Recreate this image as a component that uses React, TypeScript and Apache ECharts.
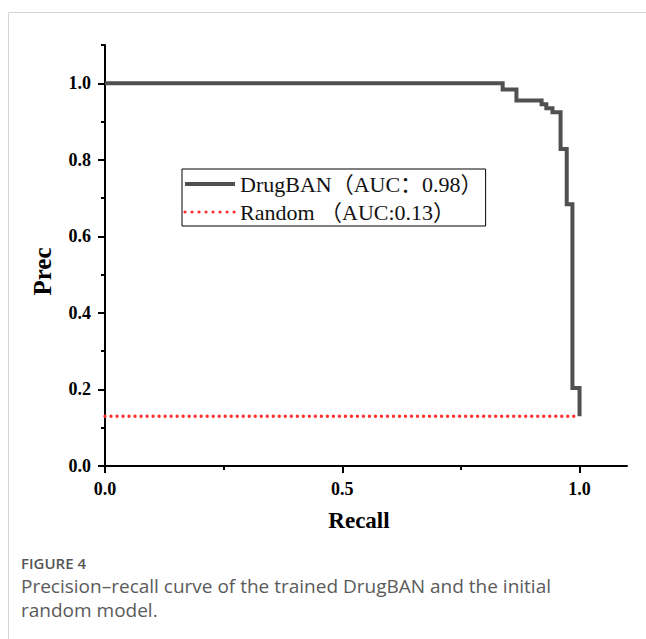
import React, { useEffect, useRef } from "react";
import * as echarts from "echarts";

const recall = [0, 0.838, 0.867, 0.92, 0.93, 0.943, 0.96, 0.973, 0.985, 1.0];
const precision = [1.0, 0.984, 0.955, 0.945, 0.935, 0.924, 0.828, 0.684, 0.204, 0.13];
const randomRecall = [0, 1.0];
const randomPrecision = [0.13, 0.13];
const xMajorTicks = [0, 0.5, 1.0];
const xMinorTicks = [0.25, 0.75];
const yMajorTicks = [0, 0.2, 0.4, 0.6, 0.8, 1.0];
const yMinorTicks = [0.1, 0.3, 0.5, 0.7, 0.9, 1.1];
const seriesNames = ["DrugBAN（AUC：0.98）", "Random （AUC:0.13）"];
const axisNames = ["Recall", "Prec"];
const captionTitle = "FIGURE 4";
const captionLines = [
  "Precision–recall curve of the trained DrugBAN and the initial",
  "random model.",
];

const SERIF = '"Liberation Serif", "Times New Roman", "Noto Sans CJK SC", serif';
const SANS = '"Open Sans", "Noto Sans", sans-serif';
const CURVE = "#505050";
const RED = "#ff3030";

export default function App() {
  const ref = useRef<HTMLDivElement>(null);
  useEffect(() => {
    if (!ref.current) return;
    const chart = echarts.init(ref.current, null, { renderer: "svg" });
    const axisLine = { show: true, lineStyle: { color: "#000", width: 2 } };
    const labelStyle = {
      fontFamily: SERIF,
      fontWeight: "bold" as const,
      fontSize: 18,
      color: "#000",
    };
    chart.setOption({
      animation: false,
      backgroundColor: "#fff",
      grid: { left: 105, right: 19, top: 45, bottom: 173, containLabel: false },
      xAxis: [
        {
          type: "value",
          min: 0,
          max: 1.1,
          position: "bottom",
          name: axisNames[0],
          nameLocation: "middle",
          nameGap: 43,
          nameTextStyle: {
            fontFamily: SERIF,
            fontWeight: "bold",
            fontSize: 23,
            color: "#000",
            padding: [0, 14, 0, 0],
          },
          axisLine,
          axisTick: {
            show: true,
            length: 7,
            customValues: xMajorTicks,
            lineStyle: { color: "#000", width: 2 },
          },
          axisLabel: {
            ...labelStyle,
            margin: 14,
            customValues: xMajorTicks,
            formatter: (v: number) => v.toFixed(1),
          },
          splitLine: { show: false },
        },
        {
          type: "value",
          min: 0,
          max: 1.1,
          position: "bottom",
          axisLine: { show: false },
          axisTick: {
            show: true,
            length: 4,
            customValues: xMinorTicks,
            lineStyle: { color: "#000", width: 2 },
          },
          axisLabel: { show: false },
          splitLine: { show: false },
        },
      ],
      yAxis: [
        {
          type: "value",
          min: 0,
          max: 1.1,
          position: "left",
          name: axisNames[1],
          nameLocation: "middle",
          nameRotate: 90,
          nameGap: 50,
          nameTextStyle: {
            fontFamily: SERIF,
            fontWeight: "bold",
            fontSize: 25,
            color: "#000",
            padding: [0, 32, 0, 0],
          },
          axisLine,
          axisTick: {
            show: true,
            length: 7,
            customValues: yMajorTicks,
            lineStyle: { color: "#000", width: 2 },
          },
          axisLabel: {
            ...labelStyle,
            margin: 14,
            customValues: yMajorTicks,
            formatter: (v: number) => v.toFixed(1),
          },
          splitLine: { show: false },
        },
        {
          type: "value",
          min: 0,
          max: 1.1,
          position: "left",
          axisLine: { show: false },
          axisTick: {
            show: true,
            length: 4,
            customValues: yMinorTicks,
            lineStyle: { color: "#000", width: 2 },
          },
          axisLabel: { show: false },
          splitLine: { show: false },
        },
      ],
      legend: {
        orient: "vertical",
        left: 182,
        top: 169,
        padding: [3, 3, 2, 1],
        borderColor: "#000",
        borderWidth: 1,
        itemWidth: 50,
        itemHeight: 14,
        itemGap: 4,
        textStyle: {
          fontFamily: SERIF,
          fontSize: 22,
          lineHeight: 24,
          color: "#111",
        },
        data: [
          {
            name: seriesNames[0],
            itemStyle: { opacity: 0 },
            lineStyle: { width: 4, color: CURVE },
          },
          {
            name: seriesNames[1],
            itemStyle: { opacity: 0 },
            lineStyle: { width: 3.2, color: RED, type: [0.01, 7], cap: "round" },
          },
        ],
      },
      series: [
        {
          name: seriesNames[0],
          type: "line",
          step: "end",
          xAxisIndex: 0,
          yAxisIndex: 0,
          symbol: "none",
          data: recall.map((r, i) => [r, precision[i]]),
          lineStyle: { color: CURVE, width: 4, join: "miter", cap: "butt" },
          itemStyle: { color: CURVE },
        },
        {
          name: seriesNames[1],
          type: "line",
          xAxisIndex: 0,
          yAxisIndex: 0,
          symbol: "none",
          data: randomRecall.map((r, i) => [r, randomPrecision[i]]),
          lineStyle: { color: RED, width: 3.4, type: [0.01, 6], cap: "round" },
          itemStyle: { color: RED },
        },
      ],
      graphic: [
        {
          type: "line",
          shape: { x1: 8.5, y1: 12.5, x2: 646, y2: 12.5 },
          style: { stroke: "#d4d4d4", lineWidth: 1 },
          silent: true,
        },
        {
          type: "line",
          shape: { x1: 8.5, y1: 12.5, x2: 8.5, y2: 639 },
          style: { stroke: "#d4d4d4", lineWidth: 1 },
          silent: true,
        },
        {
          type: "text",
          left: 21,
          top: 555,
          style: {
            text: captionTitle,
            fontFamily: SANS,
            fontSize: 15,
            lineHeight: 16,
            fontWeight: 600,
            fill: "#555",
          },
        },
        {
          type: "text",
          left: 21,
          top: 576,
          style: {
            text: captionLines[0],
            fontFamily: SANS,
            fontSize: 19,
            lineHeight: 20,
            fill: "#5a5a5a",
          },
        },
        {
          type: "text",
          left: 21,
          top: 600,
          style: {
            text: captionLines[1],
            fontFamily: SANS,
            fontSize: 19,
            lineHeight: 20,
            fill: "#5a5a5a",
          },
        },
      ],
    });
    return () => chart.dispose();
  }, []);
  return (
    <div
      style={{
        position: "fixed",
        left: 0,
        top: 0,
        width: 646,
        height: 639,
        background: "#fff",
      }}
    >
      <div ref={ref} style={{ width: 646, height: 639 }} />
    </div>
  );
}
